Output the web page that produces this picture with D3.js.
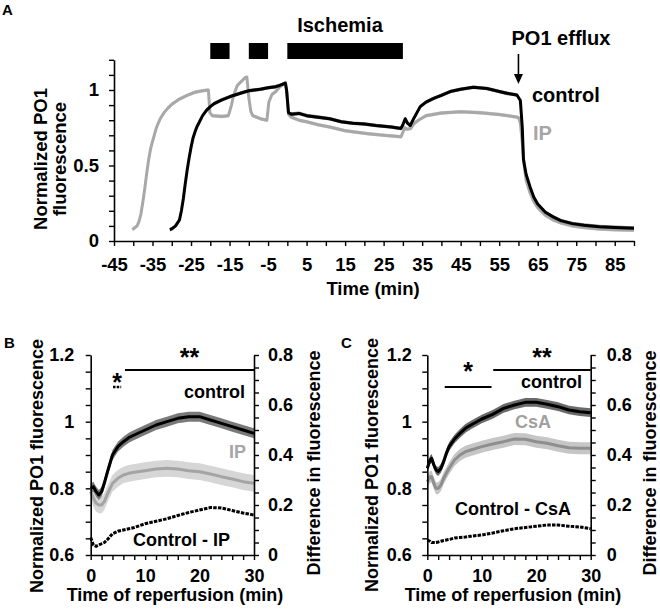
<!DOCTYPE html>
<html><head><meta charset="utf-8">
<script src="https://cdn.jsdelivr.net/npm/d3@7"></script>
<style>
body{margin:0;background:#fff;}
svg{display:block;font-family:'Liberation Sans',Arial,sans-serif;font-weight:bold;}
</style></head><body>
<svg id="c" width="660" height="614"></svg>
<script>
// ---------------- Panel A data ----------------
const tA_ctrl = [-30.5,-30,-29,-28,-27.5,-27,-26.5,-26,-25.5,-25,-24.5,-24,-23.5,-23,-22,-21,-20,-19,-17,-15,-12,-10,-7,-5,-3,-2,-1,-0.5,-0.2,0.3,1,3,5,8,11,14,17,20,23,25,27,29.5,30,30.6,31.2,31.9,33,34.5,36,38,40,42.3,45,48.3,51.8,55,57,59.6,60.5,61,61.3,62,63,64,65,67,69,71,74,77,81,85,90];
const vA_ctrl = [0.075,0.08,0.1,0.14,0.2,0.28,0.38,0.47,0.55,0.62,0.68,0.72,0.755,0.78,0.83,0.865,0.89,0.91,0.935,0.955,0.98,0.995,1.005,1.015,1.022,1.03,1.04,1.045,1.0,0.85,0.84,0.845,0.83,0.82,0.81,0.79,0.78,0.775,0.765,0.76,0.755,0.745,0.77,0.81,0.78,0.765,0.82,0.89,0.92,0.945,0.965,0.99,1.005,1.018,1.01,0.99,0.978,0.967,0.93,0.75,0.54,0.44,0.36,0.29,0.245,0.19,0.16,0.135,0.115,0.105,0.095,0.09,0.085];
const tA_ip = [-40.2,-40,-39,-38.5,-38,-37.5,-37,-36.5,-36,-35.5,-35,-34,-33,-32,-31,-30,-28,-26,-24,-22,-20.5,-20.1,-19.5,-17,-15.3,-14.5,-14,-13,-12,-11,-10.5,-10,-9.5,-9,-7,-5.3,-4.8,-4,-3,-2,-1,-0.5,-0.1,0.3,1,3,5,8,11,15,18,21,25,29.5,30,30.5,31,32,33,34,36,40,45,50,55,59,60,60.5,61,61.5,62,63,64,65,67,69,71,74,77,81,85,90];
const vA_ip = [0.075,0.08,0.1,0.13,0.18,0.26,0.35,0.45,0.54,0.61,0.66,0.75,0.81,0.85,0.88,0.905,0.94,0.965,0.985,0.995,1.0,0.85,0.83,0.825,0.83,0.9,0.96,1.03,1.055,1.08,1.085,0.95,0.86,0.83,0.81,0.80,0.92,0.97,0.99,1.02,1.04,1.05,0.98,0.84,0.82,0.80,0.79,0.77,0.755,0.73,0.72,0.71,0.70,0.69,0.72,0.75,0.74,0.745,0.78,0.80,0.83,0.848,0.856,0.85,0.838,0.823,0.818,0.78,0.65,0.5,0.4,0.32,0.26,0.22,0.17,0.14,0.12,0.1,0.09,0.08,0.075,0.072];
const semA_ctrl = 0.012, semA_ip = 0.012;
const ischemiaBlocks = [[-20,-15],[-10,-5],[0,30]];
const effluxTime = 60;
const xTicksA = d3.range(-45, 91, 5);
const xLabelsA = d3.range(-45, 86, 10);
const yTicksA = d3.range(0, 13).map(i => i / 10);
const yLabelsA = [0, 0.5, 1];

// ---------------- Panel B data ----------------
const tB = [0,0.5,1,1.5,2,2.5,3,4,5,6,7,8,10,12,14,16,18,20,22,24,26,28,30];
const bCtrl = [0.80,0.805,0.79,0.78,0.79,0.815,0.845,0.9,0.925,0.94,0.952,0.96,0.975,0.99,1.0,1.01,1.015,1.015,1.005,0.995,0.985,0.975,0.965];
const bIP = [0.79,0.77,0.755,0.75,0.75,0.76,0.78,0.815,0.83,0.84,0.845,0.848,0.853,0.858,0.86,0.858,0.853,0.85,0.843,0.835,0.828,0.82,0.815];
const bDiff = [0.07,0.04,0.035,0.04,0.045,0.05,0.06,0.085,0.095,0.1,0.105,0.11,0.125,0.135,0.145,0.158,0.17,0.18,0.19,0.188,0.178,0.168,0.16];
const semB_ctrl = 0.015, semB_ip = 0.025;
const sigB1 = [4.1, 5.6], sigB2 = [6.3, 30];

// ---------------- Panel C data ----------------
const tC = [0,0.5,0.8,1.2,1.6,2,2.5,3,3.5,4,5,6,7,8,10,12,14,16,18,20,22,24,26,28,30];
const cCtrl = [0.86,0.885,0.89,0.87,0.855,0.85,0.86,0.88,0.905,0.925,0.948,0.965,0.98,0.99,1.008,1.022,1.04,1.05,1.058,1.058,1.052,1.045,1.035,1.03,1.027];
const cCsA = [0.82,0.835,0.835,0.815,0.8,0.8,0.81,0.83,0.845,0.86,0.885,0.9,0.91,0.915,0.925,0.933,0.94,0.948,0.947,0.94,0.935,0.928,0.922,0.92,0.92];
const cDiff = [0.06,0.055,0.05,0.05,0.05,0.052,0.055,0.058,0.06,0.062,0.068,0.07,0.072,0.075,0.08,0.088,0.097,0.105,0.11,0.115,0.12,0.12,0.115,0.112,0.105];
const semC_ctrl = 0.013, semC_csa = 0.018;
const sigC1 = [3.2, 11.8], sigC2 = [12.1, 30];

const xTicksBC = d3.range(0, 31, 2);
const xLabelsBC = [0, 10, 20, 30];
const yLeftTicks = d3.range(0, 13).map(i => +(0.6 + i * 0.05).toFixed(2));
const yLeftLabels = [0.6, 0.8, 1, 1.2];
const yRightTicks = d3.range(0, 17).map(i => +(i * 0.05).toFixed(2));
const yRightLabels = [0, 0.2, 0.4, 0.6, 0.8];

// ---------------- drawing ----------------
const svg = d3.select("#c");
const zip = (t, v) => t.map((d, i) => [d, v[i]]);
const has = (arr, d) => arr.some(a => Math.abs(a - d) < 1e-9);

function styleAxis(g, fs) {
  g.select(".domain").attr("stroke", "#000").attr("stroke-width", 1.6);
  g.selectAll(".tick line").attr("stroke", "#000").attr("stroke-width", 1.4);
  g.selectAll(".tick text").attr("fill", "#000").style("font-size", fs + "px")
    .style("font-weight", "bold").style("font-family", "'Liberation Sans',Arial,sans-serif");
}

function series(g, x, y, data, sem, lineCol, bandCol, lw) {
  const area = d3.area().x(d => x(d[0])).y0(d => y(d[1] - sem)).y1(d => y(d[1] + sem));
  const line = d3.line().x(d => x(d[0])).y(d => y(d[1]));
  g.append("path").datum(data).attr("d", area).attr("fill", bandCol);
  g.append("path").datum(data).attr("d", line).attr("fill", "none")
    .attr("stroke", lineCol).attr("stroke-width", lw).attr("stroke-linejoin", "round");
}

function txt(x, y, s, opt = {}) {
  const t = svg.append("text").attr("x", x).attr("y", y).text(s)
    .attr("font-size", opt.fs || 18).attr("fill", opt.fill || "#000")
    .attr("text-anchor", opt.anchor || "start");
  if (opt.rot) t.attr("transform", `rotate(-90,${x},${y})`);
  return t;
}

// ===== Panel A =====
const xA = d3.scaleLinear().domain([-45, 90]).range([114, 634]);
const yA = d3.scaleLinear().domain([0, 1.2]).range([241, 59.8]);
const gA = svg.append("g");
series(gA, xA, yA, zip(tA_ip, vA_ip), semA_ip, "#a8a8a8", "#d2d2d2", 3);
series(gA, xA, yA, zip(tA_ctrl, vA_ctrl), semA_ctrl, "#000", "#8a8a8a", 3);

const axA_x = svg.append("g").attr("transform", "translate(0,241)")
  .call(d3.axisBottom(xA).tickValues(xTicksA).tickSize(5).tickSizeOuter(0).tickPadding(12)
    .tickFormat(d => has(xLabelsA, d) ? String(d) : ""));
styleAxis(axA_x, 18.5);
const axA_y = svg.append("g").attr("transform", "translate(114,0)")
  .call(d3.axisLeft(yA).tickValues(yTicksA).tickSize(5).tickSizeOuter(0).tickPadding(10)
    .tickFormat(d => has(yLabelsA, d) ? String(d) : ""));
styleAxis(axA_y, 18.5);

ischemiaBlocks.forEach(b => {
  svg.append("rect").attr("x", xA(b[0])).attr("width", xA(b[1]) - xA(b[0]))
    .attr("y", 43).attr("height", 16).attr("fill", "#000");
});
txt(340, 32, "Ischemia", {fs: 20, anchor: "middle"});
txt(561, 45, "PO1 efflux", {fs: 20, anchor: "middle"});
const ax = xA(effluxTime);
svg.append("line").attr("x1", ax).attr("x2", ax).attr("y1", 54).attr("y2", 76)
  .attr("stroke", "#000").attr("stroke-width", 1.6);
svg.append("path").attr("d", `M${ax - 4.5},74 L${ax + 4.5},74 L${ax},84 Z`).attr("fill", "#000");
txt(532, 102, "control", {fs: 20});
txt(533, 140, "IP", {fs: 20, fill: "#a6a6a6"});
txt(47, 159, "Normalized PO1", {fs: 18.5, anchor: "middle", rot: true});
txt(66, 159, "fluorescence", {fs: 18.5, anchor: "middle", rot: true});
txt(373, 295, "Time (min)", {fs: 18.5, anchor: "middle"});
txt(2, 15, "A", {fs: 15});

// ===== Panels B & C =====
function panel(x0, x1, o) {
  const x = d3.scaleLinear().domain([0, 30]).range([x0, x1]);
  const yL = d3.scaleLinear().domain([0.6, 1.2]).range([555, 355]);
  const yR = d3.scaleLinear().domain([0, 0.8]).range([555, 355]);
  const g = svg.append("g");
  series(g, x, yL, zip(o.t, o.test), o.semTest, o.testLine, o.testBand, 3);
  series(g, x, yL, zip(o.t, o.ctrl), o.semCtrl, "#000", o.ctrlBand, 3);
  g.append("path").datum(zip(o.t, o.diff))
    .attr("d", d3.line().x(d => x(d[0])).y(d => yR(d[1])))
    .attr("fill", "none").attr("stroke", "#000").attr("stroke-width", 3)
    .attr("stroke-dasharray", "3.5,1.2");

  const gx = svg.append("g").attr("transform", "translate(0,555)")
    .call(d3.axisBottom(x).tickValues(xTicksBC).tickSize(5).tickSizeOuter(0).tickPadding(9)
      .tickFormat(d => has(xLabelsBC, d) ? String(d) : ""));
  styleAxis(gx, 18);
  const gl = svg.append("g").attr("transform", `translate(${x0},0)`)
    .call(d3.axisLeft(yL).tickValues(yLeftTicks).tickSize(5).tickSizeOuter(0).tickPadding(o.padL)
      .tickFormat(d => has(yLeftLabels, d) ? String(d) : ""));
  styleAxis(gl, 18);
  const gr = svg.append("g").attr("transform", `translate(${x1},0)`)
    .call(d3.axisRight(yR).tickValues(yRightTicks).tickSize(5).tickSizeOuter(0).tickPadding(o.padR)
      .tickFormat(d => has(yRightLabels, d) ? String(d) : ""));
  styleAxis(gr, 18);

  // significance bars
  [[o.sig1, o.sig1y, "*", o.star1y], [o.sig2, 370, "**", 366]].forEach(s => {
    svg.append("line").attr("x1", x(s[0][0])).attr("x2", x(s[0][1])).attr("y1", s[1]).attr("y2", s[1])
      .attr("stroke", "#000").attr("stroke-width", o.sigW && s[2] === "*" ? o.sigW : 2)
      .attr("stroke-dasharray", s[2] === "*" && o.sigDash ? o.sigDash : null);
    txt((x(s[0][0]) + x(s[0][1])) / 2, s[3], s[2], {fs: 25, anchor: "middle"});
  });
  return x;
}

const xB = panel(90.7, 254, {
  t: tB, ctrl: bCtrl, test: bIP, diff: bDiff, semCtrl: semB_ctrl, semTest: semB_ip,
  testLine: "#a4a4a4", testBand: "#d6d6d6", ctrlBand: "#7a7a7a",
  padL: 11.5, padR: 9, sig1: sigB1, sig1y: 387, star1y: 391, sig2: sigB2,
  sigW: 2.5, sigDash: "2.5,1.2"
});
txt(245, 398, "control", {anchor: "end"});
txt(246, 458, "IP", {anchor: "end", fill: "#a6a6a6"});
txt(133, 546, "Control - IP");
txt(43, 466, "Normalized PO1 fluorescence", {anchor: "middle", rot: true});
txt(320, 463, "Difference in fluorescence", {anchor: "middle", rot: true});
txt(175, 601, "Time of reperfusion (min)", {anchor: "middle"});
txt(4, 348, "B", {fs: 15});

const xC = panel(427.3, 590.7, {
  t: tC, ctrl: cCtrl, test: cCsA, diff: cDiff, semCtrl: semC_ctrl, semTest: semC_csa,
  testLine: "#8e8e8e", testBand: "#c6c6c6", ctrlBand: "#6a6a6a",
  padL: 10.5, padR: 11, sig1: sigC1, sig1y: 387, star1y: 380, sig2: sigC2
});
txt(582, 388, "control", {anchor: "end"});
txt(515, 428, "CsA", {fill: "#a0a0a0"});
txt(455, 515, "Control - CsA");
txt(378, 465, "Normalized PO1 fluorescence", {anchor: "middle", rot: true});
txt(656, 463, "Difference in fluorescence", {anchor: "middle", rot: true});
txt(513, 601, "Time of reperfusion (min)", {anchor: "middle"});
txt(341, 348, "C", {fs: 15});
</script></body></html>
